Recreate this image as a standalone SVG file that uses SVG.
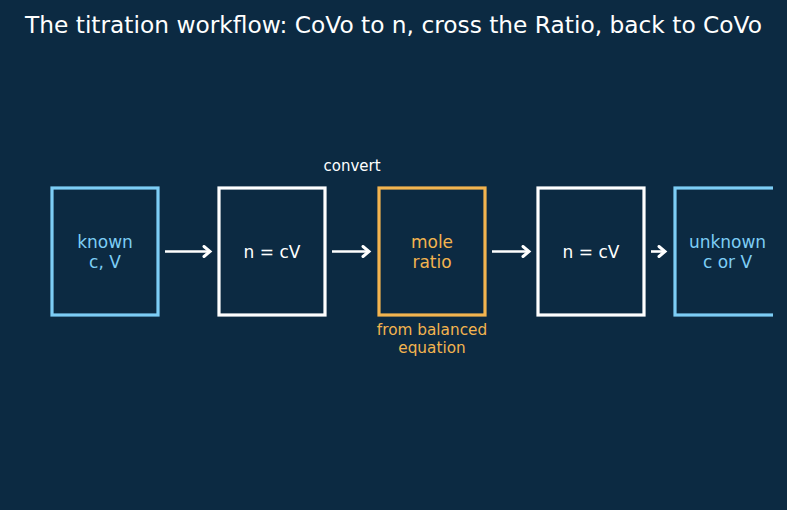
<svg xmlns="http://www.w3.org/2000/svg" width="787" height="510" viewBox="0 0 787 510">
<defs>
<style>
text{font-family:"DejaVu Sans",sans-serif;text-anchor:middle}
.t{font-size:23.3px;fill:#ffffff}
.box{fill:#0c2a42;stroke-width:3.2}
.w{stroke:#ffffff}
.b{stroke:#7dcdf5}
.o{stroke:#f3b44f}
.lb{font-size:17px}
.cw{fill:#ffffff}
.cb{fill:#7dcdf5}
.co{fill:#f3b44f}
.sm{font-size:15px}
.sm2{font-size:15.3px}
.arr{stroke:#ffffff;stroke-width:2.6;fill:none;marker-end:url(#ah)}
</style>
<marker id="ah" viewBox="0 0 14 14" refX="11" refY="7" markerWidth="14" markerHeight="14" orient="auto" markerUnits="userSpaceOnUse">
<path d="M5,2 L11,7 L5,12" fill="none" stroke="#ffffff" stroke-width="3" stroke-linejoin="miter" stroke-linecap="round"/>
</marker>
<clipPath id="clip"><rect x="0" y="0" width="773" height="510"/></clipPath>
</defs>
<rect width="787" height="510" fill="#0c2a42"/>
<text class="t" x="393.5" y="32.5">The titration workflow: CoVo to n, cross the Ratio, back to CoVo</text>
<g id="connectors">
<line class="arr" x1="165" y1="251.5" x2="210" y2="251.5"/>
<line class="arr" x1="332" y1="251.5" x2="369" y2="251.5"/>
<line class="arr" x1="492" y1="251.5" x2="529" y2="251.5"/>
<line class="arr" x1="651" y1="251.5" x2="665" y2="251.5"/>
</g>
<g id="known">
<rect class="box b" x="52" y="188" width="106" height="127"/>
<text class="lb cb" x="105" y="247.5">known</text>
<text class="lb cb" x="105" y="267.5">c, V</text>
</g>
<g id="n1">
<rect class="box w" x="219" y="188" width="106" height="127"/>
<text class="lb cw" x="272" y="257.5">n = cV</text>
</g>
<g id="ratio">
<text class="sm cw" x="352" y="170.5">convert</text>
<rect class="box o" x="379" y="188" width="106" height="127"/>
<text class="lb co" x="432" y="247.5">mole</text>
<text class="lb co" x="432" y="267.5">ratio</text>
<text class="sm2 co" x="432" y="334.5">from balanced</text>
<text class="sm2 co" x="432" y="352.5">equation</text>
</g>
<g id="n2">
<rect class="box w" x="538" y="188" width="106" height="127"/>
<text class="lb cw" x="591" y="257.5">n = cV</text>
</g>
<g id="unknown" clip-path="url(#clip)">
<rect class="box b" x="675" y="188" width="106" height="127"/>
<text class="lb cb" x="727.5" y="247.5">unknown</text>
<text class="lb cb" x="727.5" y="267.5">c or V</text>
</g>
</svg>
